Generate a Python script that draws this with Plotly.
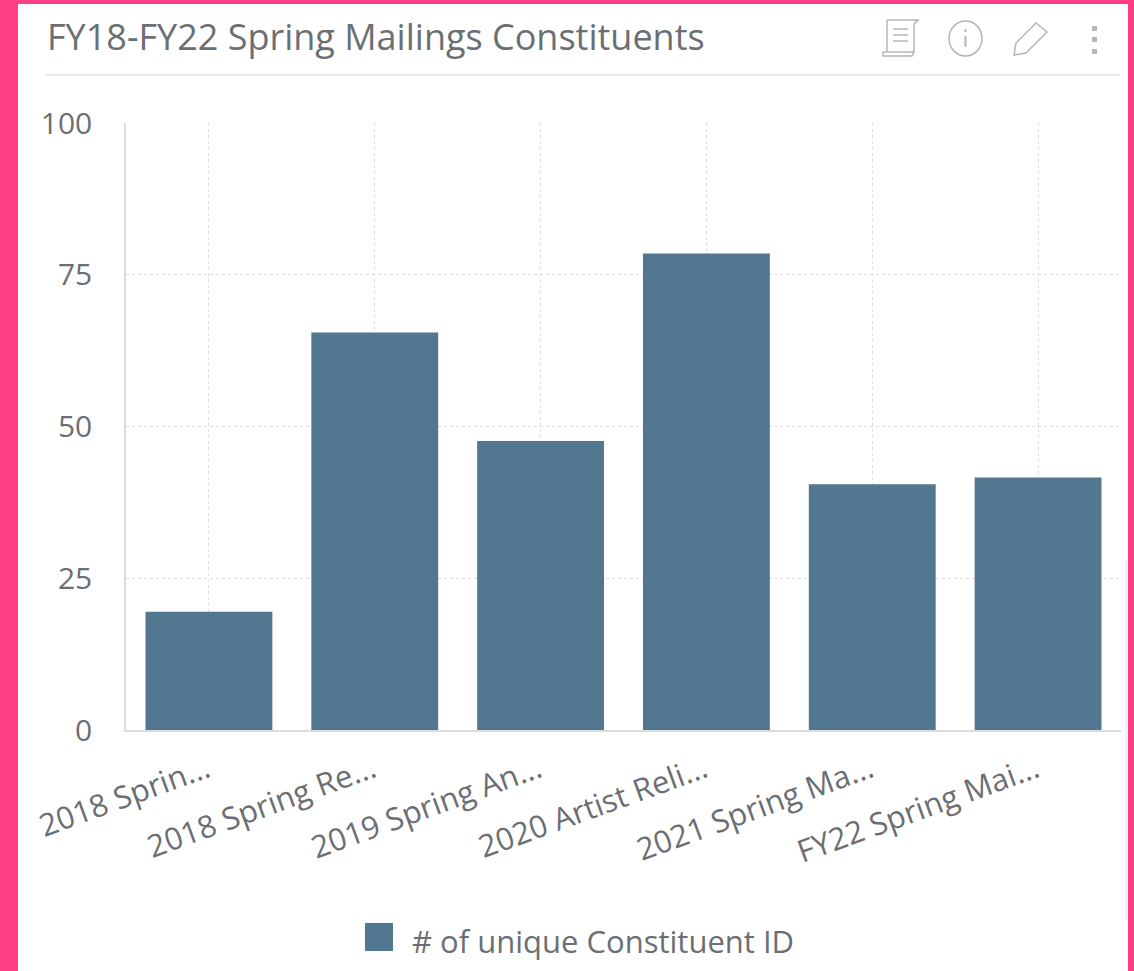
import plotly.graph_objects as go

categories = ["2018 Sprin...", "2018 Spring Re...", "2019 Spring An...", "2020 Artist Reli...", "2021 Spring Ma...", "FY22 Spring Mai..."]
values = [19.5, 65.5, 47.6, 78.5, 40.5, 41.6]
y_ticks = [0, 25, 50, 75, 100]
series_name = "# of unique Constituent ID"
chart_title = "FY18-FY22 Spring Mailings Constituents"

W, H = 1134, 971
L, R, T, B = 126, 1121, 123, 730
BAR = "#527791"
PINK = "#FF3D85"
TXT = "#6b6f73"
ICON = "#b4b6b8"
GRID = "#dedede"
FONT = "Open Sans"

def px(x):
    return (x - L) / (R - L)
def py(y):
    return (B - y) / (B - T)

def rect(x0, y0, x1, y1, fill, layer="below", line=None):
    return dict(type="rect", xref="paper", yref="paper", x0=px(x0), x1=px(x1), y0=py(y1), y1=py(y0),
                fillcolor=fill, line=dict(width=0) if line is None else line, layer=layer)

def seg(x0, y0, x1, y1, color, width=1.5, dash=None):
    return dict(type="line", xref="paper", yref="paper", x0=px(x0), x1=px(x1), y0=py(y0), y1=py(y1),
                line=dict(color=color, width=width, dash=dash), layer="above")

def path(points, color, width=1.5, closed=False):
    d = "M " + " L ".join(f"{px(a):.5f},{py(b):.5f}" for a, b in points) + (" Z" if closed else "")
    return dict(type="path", xref="paper", yref="paper", path=d, line=dict(color=color, width=width), layer="above")

shapes = [
    rect(0, 0, W, 4, PINK, "above"),
    rect(0, 0, 18, H, PINK, "above"),
    rect(1128, 0, W, H, PINK, "above"),
    seg(45, 75, 1120, 75, "#e6e6e6", 1.5),
    seg(1126, 560, 1126, 920, "#ececec", 1.5),
    path([(887, 20), (918, 20), (914, 24), (914, 52), (883, 52), (883, 56), (912, 56), (914, 52)], ICON),
    path([(887, 20), (887, 52)], ICON),
    seg(893, 29, 908, 29, ICON), seg(893, 35, 908, 35, ICON), seg(893, 41, 908, 41, ICON),
    dict(type="circle", xref="paper", yref="paper", x0=px(949), x1=px(982), y0=py(56), y1=py(21),
         line=dict(color=ICON, width=1.5), layer="above"),
    seg(965.5, 36, 965.5, 47, ICON, 2),
    seg(965.5, 29, 965.5, 32, ICON, 2),
    path([(1014, 55), (1016, 43), (1036, 23), (1047, 32), (1026, 53)], ICON, closed=True),
    rect(1092, 26, 1097, 31, ICON, "above"),
    rect(1092, 37, 1097, 42, ICON, "above"),
    rect(1092, 49, 1097, 54, ICON, "above"),
    rect(365, 923, 393, 951, BAR, "above"),
]

fig = go.Figure(go.Bar(x=categories, y=values, name=series_name, marker=dict(color=BAR, line=dict(width=0)), width=0.765, showlegend=True))

fig.update_layout(
    width=W, height=H, autosize=False,
    margin=dict(l=L, r=W - R, t=T, b=H - B),
    paper_bgcolor="white", plot_bgcolor="white",
    font=dict(family=FONT, color=TXT, size=30),
    title=dict(text=chart_title, font=dict(family=FONT, size=36, color=TXT), xref="container", yref="container",
               x=47 / W, xanchor="left", y=1 - 37 / H, yanchor="middle"),
    showlegend=True,
    legend=dict(orientation="h", xref="container", yref="container", x=352 / W, xanchor="left", y=1 - 941 / H, yanchor="middle",
                font=dict(family=FONT, size=31, color=TXT), itemwidth=50, bgcolor="rgba(0,0,0,0)"),
    shapes=shapes,
    bargap=0.235,
)
fig.update_xaxes(type="category", tickangle=-20, showgrid=True, gridcolor=GRID, griddash="dot", gridwidth=1,
                 showline=True, linecolor="#dcdcdc", linewidth=1.5, ticks="", tickfont=dict(family=FONT, size=31, color=TXT),
                 zeroline=False, automargin=False, ticklabelstandoff=8, ticklabelshift=-2)
fig.update_yaxes(range=[0, 100], tickvals=y_ticks, showgrid=True, gridcolor=GRID, griddash="dot", gridwidth=1,
                 showline=True, linecolor="#dcdcdc", linewidth=1.5, ticks="", tickfont=dict(family=FONT, size=30, color=TXT),
                 zeroline=False, automargin=False, ticklabelstandoff=26)

fig.write_html("out.html", config=dict(displayModeBar=False),
               post_script="document.body.style.margin='0';document.documentElement.style.overflow='hidden';")
